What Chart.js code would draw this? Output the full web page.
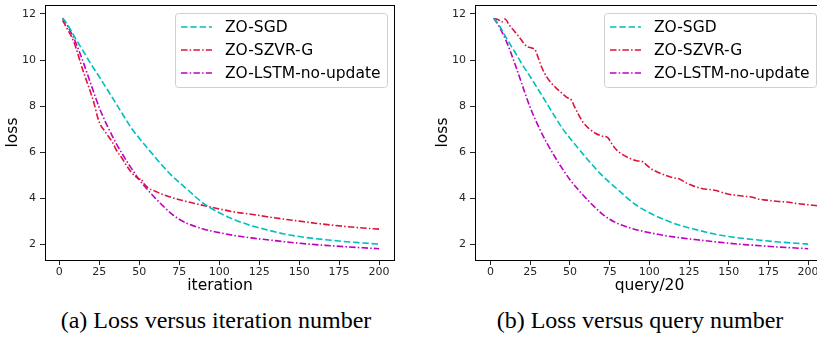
<!DOCTYPE html>
<html>
<head>
<meta charset="utf-8">
<script src="https://cdn.jsdelivr.net/npm/chart.js@4.4.1/dist/chart.umd.min.js"></script>
<style>
    html, body { margin: 0; padding: 0; background: #fff; overflow: hidden; width: 817px; height: 337px; }
    .panel { position: absolute; top: 0; }
    #loss-iter { left: 0; }
    #loss-query { left: 430px; }
    .caption {
        position: absolute;
        top: 307px;
        font-family: "Liberation Serif", "Times New Roman", serif;
        font-size: 24px;
        color: #000;
        white-space: nowrap;
        transform: translateX(-50%);
    }
</style>
</head>
<body>
<canvas id="loss-iter" class="panel" width="408" height="300"></canvas>
<canvas id="loss-query" class="panel" width="407" height="300"></canvas>
<div class="caption" style="left:216px">(a) Loss versus iteration number</div>
<div class="caption" style="left:640px">(b) Loss versus query number</div>

<script>
// tick labels
const lossTicks = [2, 4, 6, 8, 10, 12];
const stepTicks = [0, 25, 50, 75, 100, 125, 150, 175, 200];
const seriesNames = ['ZO-SGD', 'ZO-SZVR-G', 'ZO-LSTM-no-update'];

// ZO-SGD and ZO-LSTM share the same steps in both panels (one query batch per iteration)
const iterSteps = [2, 5, 10, 15, 20, 25, 30, 35, 40, 45, 50, 55, 60, 65, 70, 75,
    80, 90, 100, 110, 120, 130, 140, 150, 160, 170, 180, 190, 200];
const sgdLoss = [11.82, 11.55, 10.95, 10.38, 9.8, 9.27, 8.72, 8.16, 7.6, 7.05, 6.6, 6.18, 5.77, 5.37, 5.0, 4.68,
    4.38, 3.78, 3.36, 3.05, 2.8, 2.62, 2.45, 2.33, 2.24, 2.17, 2.1, 2.05, 2.0];
const lstmLoss = [11.82, 11.5, 10.8, 9.9, 8.9, 7.93, 7.14, 6.45, 5.85, 5.3, 4.8, 4.38, 4.0, 3.65, 3.33, 3.08,
    2.9, 2.66, 2.5, 2.37, 2.27, 2.19, 2.11, 2.04, 1.98, 1.93, 1.88, 1.84, 1.8];

// ZO-SZVR-G per iteration
const szvrIterSteps = [2, 5, 9, 15, 20, 22, 24, 26, 28, 30, 33, 36, 39, 42, 45, 48, 50, 51, 53, 56,
    60, 65, 70, 78, 85, 94, 100, 110, 120, 130, 140, 150, 160, 170, 180, 190, 200];
const szvrIterLoss = [11.72, 11.35, 10.8, 9.5, 8.5, 8.05, 7.5, 7.15, 6.95, 6.75, 6.45, 6.05, 5.75, 5.42, 5.12, 4.92, 4.82, 4.85, 4.62, 4.42,
    4.3, 4.15, 4.03, 3.88, 3.76, 3.62, 3.53, 3.39, 3.3, 3.19, 3.09, 3.0, 2.91, 2.83, 2.76, 2.7, 2.65];

// ZO-SZVR-G per query/20 (full-gradient refresh every ~23 steps)
const szvrQuerySteps = [2, 5, 7, 9, 12, 15, 18, 21, 23, 26, 28, 30, 32, 35, 38, 41, 45, 48, 51, 53,
    55, 58, 62, 66, 70, 74, 76, 79, 83, 88, 92, 96, 98, 101, 106, 111, 115, 119, 121, 124,
    128, 133, 138, 142, 145, 150, 156, 161, 165, 168, 174, 180, 186, 188, 192, 200, 210];
const szvrQueryLoss = [11.8, 11.75, 11.65, 11.78, 11.5, 11.25, 11.0, 10.72, 10.58, 10.52, 10.45, 10.1, 9.72, 9.3, 9.02, 8.8, 8.55, 8.38, 8.25, 7.95,
    7.68, 7.32, 7.02, 6.82, 6.70, 6.62, 6.4, 6.12, 5.9, 5.72, 5.62, 5.58, 5.45, 5.28, 5.1, 4.97, 4.88, 4.83, 4.75, 4.63,
    4.52, 4.42, 4.37, 4.33, 4.26, 4.17, 4.11, 4.07, 4.04, 3.97, 3.91, 3.86, 3.83, 3.82, 3.77, 3.71, 3.64];

const colors = ['#00bfbf', '#dc143c', '#bf00bf'];
const dashes = [[6.5, 2.8], [6.5, 2.2, 1.5, 2.2], [6.5, 2.2, 1.5, 2.2]];

Chart.defaults.font.family = "'DejaVu Sans', sans-serif";
Chart.defaults.color = '#262626';

function toPoints(xs, ys) {
    return xs.map((x, i) => ({x: x, y: ys[i]}));
}

function makeDataset(idx, xs, ys) {
    return {
        label: seriesNames[idx],
        data: toPoints(xs, ys),
        borderColor: colors[idx],
        borderWidth: 1.6,
        borderDash: dashes[idx],
        pointRadius: 0,
        fill: false,
        cubicInterpolationMode: 'monotone'
    };
}

// frame around the plot area plus a boxed legend in the top-right corner
const frameAndLegend = {
    id: 'frameAndLegend',
    afterDatasetsDraw(chart) {
        const {ctx, chartArea} = chart;
        ctx.save();

        ctx.strokeStyle = '#000';
        ctx.lineWidth = 1;
        ctx.setLineDash([]);
        ctx.strokeRect(Math.round(chartArea.left) + 0.5, Math.round(chartArea.top) + 0.5,
            Math.round(chartArea.width) - 1, Math.round(chartArea.height));

        const w = 212, h = 74;
        const x0 = chartArea.right - 8 - w;
        const y0 = chartArea.top + 8;
        ctx.beginPath();
        ctx.roundRect(x0 + 0.5, y0 + 0.5, w, h, 3);
        ctx.fillStyle = 'rgba(255,255,255,0.85)';
        ctx.fill();
        ctx.strokeStyle = '#d0d0d0';
        ctx.stroke();

        ctx.font = "15.5px 'DejaVu Sans', sans-serif";
        ctx.textBaseline = 'middle';
        ctx.textAlign = 'left';
        chart.data.datasets.forEach((ds, i) => {
            const y = y0 + 14 + i * 23;
            ctx.beginPath();
            ctx.strokeStyle = ds.borderColor;
            ctx.lineWidth = ds.borderWidth;
            ctx.setLineDash(ds.borderDash);
            ctx.moveTo(x0 + 6, y);
            ctx.lineTo(x0 + 37, y);
            ctx.stroke();
            ctx.setLineDash([]);
            ctx.fillStyle = '#000';
            ctx.fillText(ds.label, x0 + 50, y + 1);
        });
        ctx.restore();
    }
};

function buildConfig(datasets, xTitle, xMin, xMax) {
    return {
        type: 'line',
        data: {datasets: datasets},
        options: {
            responsive: false,
            animation: false,
            devicePixelRatio: 1,
            layout: {padding: {left: 0, top: 5, right: 13, bottom: 0}},
            plugins: {
                legend: {display: false},
                tooltip: {enabled: false}
            },
            scales: {
                x: {
                    type: 'linear',
                    min: xMin,
                    max: xMax,
                    afterFit: (scale) => {
                        scale.height = 40;
                        scale.paddingLeft = 0;
                        scale.paddingRight = 0;
                    },
                    afterBuildTicks: (scale) => { scale.ticks = stepTicks.map(v => ({value: v})); },
                    grid: {drawOnChartArea: false, drawTicks: true, tickLength: 5, color: '#262626'},
                    border: {display: false},
                    ticks: {font: {size: 11}, padding: 1, maxRotation: 0, autoSkip: false},
                    title: {display: true, text: xTitle, font: {size: 15.5}, color: '#000', padding: {top: 0, bottom: 5}}
                },
                y: {
                    type: 'linear',
                    min: 1.31,
                    max: 12.39,
                    afterFit: (scale) => {
                        scale.width = 45;
                        scale.paddingTop = 0;
                        scale.paddingBottom = 0;
                    },
                    afterBuildTicks: (scale) => { scale.ticks = lossTicks.map(v => ({value: v})); },
                    grid: {drawOnChartArea: false, drawTicks: true, tickLength: 5, color: '#262626'},
                    border: {display: false},
                    ticks: {font: {size: 11}, padding: 4},
                    title: {display: true, text: 'loss', font: {size: 15.5}, color: '#000', padding: {top: 4, bottom: 0}}
                }
            }
        },
        plugins: [frameAndLegend]
    };
}

new Chart(document.getElementById('loss-iter'), buildConfig([
    makeDataset(0, iterSteps, sgdLoss),
    makeDataset(1, szvrIterSteps, szvrIterLoss),
    makeDataset(2, iterSteps, lstmLoss)
], 'iteration', -8.95, 209.95));

new Chart(document.getElementById('loss-query'), buildConfig([
    makeDataset(0, iterSteps, sgdLoss),
    makeDataset(1, szvrQuerySteps, szvrQueryLoss),
    makeDataset(2, iterSteps, lstmLoss)
], 'query/20', -9.8, 210));
</script>
</body>
</html>
